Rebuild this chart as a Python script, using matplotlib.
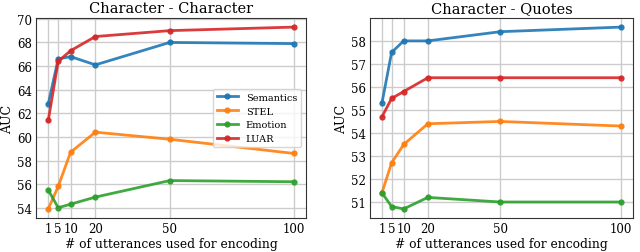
import numpy as np
import matplotlib.pyplot as plt

plt.rcParams['font.family'] = 'DejaVu Serif'

# x values (number of utterances)
n_utt = [1, 5, 10, 20, 50, 100]

# Character - Character
cc_semantics = [62.8, 66.6, 66.8, 66.1, 68.0, 67.9]
cc_stel = [53.9, 55.8, 58.7, 60.4, 59.8, 58.6]
cc_emotion = [55.5, 54.0, 54.3, 54.9, 56.3, 56.2]
cc_luar = [61.4, 66.4, 67.3, 68.5, 69.0, 69.3]
cc_yticks = [54, 56, 58, 60, 62, 64, 66, 68, 70]

# Character - Quotes
cq_semantics = [55.3, 57.5, 58.0, 58.0, 58.4, 58.6]
cq_stel = [51.4, 52.7, 53.5, 54.4, 54.5, 54.3]
cq_emotion = [51.4, 50.8, 50.7, 51.2, 51.0, 51.0]
cq_luar = [54.7, 55.5, 55.8, 56.4, 56.4, 56.4]
cq_yticks = [51, 52, 53, 54, 55, 56, 57, 58]

names = ['Semantics', 'STEL', 'Emotion', 'LUAR']
colors = ['#1f77b4', '#ff7f0e', '#2ca02c', '#d62728']

fig = plt.figure(figsize=(6.4, 2.53), dpi=100)
ax1 = fig.add_axes([36/640, 34/253, 270/640, 200/253])
ax2 = fig.add_axes([370/640, 34/253, 263/640, 200/253])

panels = [
    (ax1, 'Character - Character', [cc_semantics, cc_stel, cc_emotion, cc_luar], cc_yticks),
    (ax2, 'Character - Quotes', [cq_semantics, cq_stel, cq_emotion, cq_luar], cq_yticks),
]

for ax, title, series, yt in panels:
    for vals, name, c in zip(series, names, colors):
        ax.plot(n_utt, vals, '-o', color=c, lw=2, ms=3.5, label=name, alpha=0.9)
    ax.set_xticks(n_utt)
    ax.set_yticks(yt)
    ax.grid(True, color='#cccccc', lw=1)
    ax.set_axisbelow(True)
    ax.tick_params(length=0, labelsize=8.5, pad=3)
    ax.set_title(title, fontsize=10.5, pad=4)
    ax.set_xlabel('# of utterances used for encoding', fontsize=8.8, labelpad=1)
    ax.set_ylabel('AUC', fontsize=9, labelpad=2)
    for s in ax.spines.values():
        s.set_color('#333333')
        s.set_linewidth(0.8)

ax1.legend(loc='center right', fontsize=7, framealpha=0.8, handlelength=2.2)

fig.savefig('out.png', dpi=100)
